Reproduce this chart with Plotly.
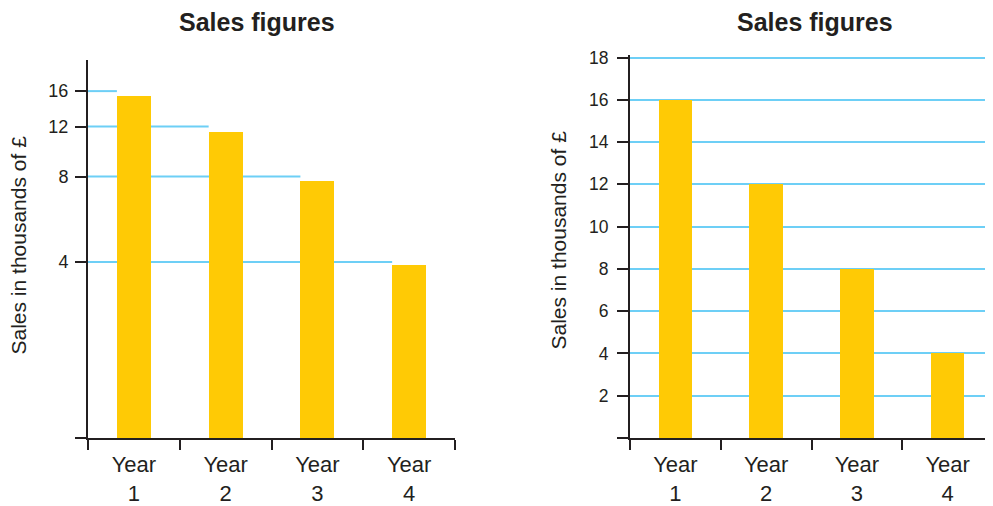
import plotly.graph_objects as go

# ---- data ----
categories = ["Year<br>1", "Year<br>2", "Year<br>3", "Year<br>4"]
left_values = [15.4, 11.5, 7.7, 3.9]          # misleading (non-linear) chart
right_values = [16, 12, 8, 4]                   # honest chart
left_tick_values = [16, 12, 8, 4]
left_tick_stop_bar = [0, 1, 2, 3]               # gridline runs up to this bar
right_tick_values = [0, 2, 4, 6, 8, 10, 12, 14, 16, 18]
title_text = "Sales figures"
axis_title_text = "Sales in thousands of £"

# ---- style ----
OFF = 8                      # default page body margin
W, H = 993 - OFF, 506 - OFF
BAR = "#FFCA05"
GRID = "#6DCFF6"
INK = "#231F20"
FONT = "Liberation Sans, Arial, Helvetica, sans-serif"
BAR_W = 0.37
PLOT_TOP, PLOT_BOT = 55, 438          # screen pixels
M_T = PLOT_TOP - OFF
M_B = H - (PLOT_BOT - OFF)
PLOT_H = PLOT_BOT - PLOT_TOP


def px(X):
    return (X - OFF) / W


def py(Y):
    return (PLOT_BOT - Y) / PLOT_H


left_log_range = [-0.0173, 1.3137]
left_bottom = 10 ** left_log_range[0]
right_top = 18 * (PLOT_BOT - PLOT_TOP) / (PLOT_BOT - 57.5)

fig = go.Figure()

fig.add_trace(go.Bar(x=categories, y=left_values, width=BAR_W,
                     marker=dict(color=BAR, line=dict(width=0)),
                     xaxis="x", yaxis="y", showlegend=False, hoverinfo="x+y"))
fig.add_trace(go.Bar(x=categories, y=right_values, width=BAR_W,
                     marker=dict(color=BAR, line=dict(width=0)),
                     xaxis="x2", yaxis="y2", showlegend=False, hoverinfo="x+y"))

# partial gridlines of the left chart
shapes = []
for v, stop in zip(left_tick_values, left_tick_stop_bar):
    shapes.append(dict(type="line", xref="x", yref="y",
                       x0=-0.5, x1=stop - BAR_W / 2, y0=v, y1=v,
                       line=dict(color=GRID, width=2), layer="below"))

axis_common = dict(showline=True, linecolor=INK, linewidth=2,
                   ticks="outside", tickcolor=INK, tickwidth=2,
                   zeroline=False, fixedrange=True)

title_font = dict(size=25, color=INK, family=FONT, weight="bold")
axis_title_font = dict(size=21, color=INK, family=FONT)

fig.update_layout(
    width=W, height=H,
    margin=dict(l=0, r=0, t=M_T, b=M_B, pad=0),
    paper_bgcolor="white", plot_bgcolor="white",
    font=dict(family=FONT, color=INK),
    bargap=0,
    shapes=shapes,
    xaxis=dict(domain=[px(88), px(455)], type="category",
               categoryorder="array", categoryarray=categories,
               range=[-0.5, 3.5], tickson="boundaries", ticklen=10,
               ticklabelstandoff=6, showgrid=False, anchor="y",
               tickfont=dict(size=22, color=INK), **axis_common),
    yaxis=dict(domain=[0, py(60)], type="log",
               range=left_log_range, anchor="x",
               tickvals=[left_bottom] + left_tick_values,
               ticktext=[""] + [str(v) for v in left_tick_values],
               ticklen=11, ticklabelstandoff=3, showgrid=False,
               tickfont=dict(size=18, color=INK), **axis_common),
    xaxis2=dict(domain=[px(630), 1.0], type="category",
                categoryorder="array", categoryarray=categories,
                range=[-0.5, 3.5], tickson="boundaries", ticklen=10,
                ticklabelstandoff=6, showgrid=False, anchor="y2",
                tickfont=dict(size=22, color=INK), **axis_common),
    yaxis2=dict(domain=[0, 1], range=[0, right_top], anchor="x2",
                tickvals=right_tick_values,
                ticktext=["" if v == 0 else str(v) for v in right_tick_values],
                ticklen=11, ticklabelstandoff=5,
                showgrid=True, gridcolor=GRID, gridwidth=2,
                tickfont=dict(size=17.5, color=INK), **axis_common),
    annotations=[
        dict(text=title_text, xref="paper", yref="paper",
             x=px(257), y=py(22), xanchor="center", yanchor="middle",
             borderpad=0, showarrow=False, font=title_font),
        dict(text=title_text, xref="paper", yref="paper",
             x=px(815), y=py(22), xanchor="center", yanchor="middle",
             borderpad=0, showarrow=False, font=title_font),
        dict(text=axis_title_text, xref="paper", yref="paper", textangle=-90,
             x=px(18), y=py(245.5), xanchor="center", yanchor="middle",
             showarrow=False, font=axis_title_font),
        dict(text=axis_title_text, xref="paper", yref="paper", textangle=-90,
             x=px(558), y=py(240.5), xanchor="center", yanchor="middle",
             showarrow=False, font=axis_title_font),
    ],
)

fig.write_html("out.html")
